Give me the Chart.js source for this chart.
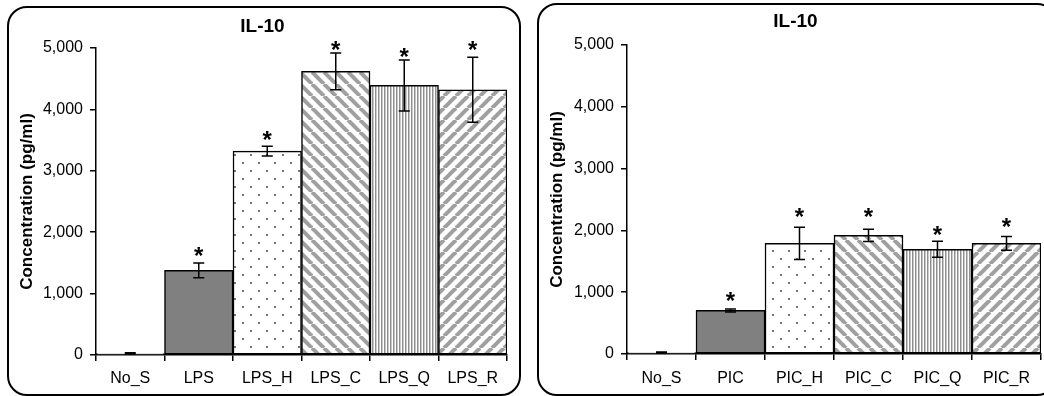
<!DOCTYPE html>
<html>
<head>
<meta charset="utf-8">
<script src="https://cdn.jsdelivr.net/npm/chart.js@4.4.1/dist/chart.umd.min.js"></script>
<style>
  html, body { margin:0; padding:0; background:#fff; }
  body { width:1044px; height:396px; position:relative; overflow:hidden; }
  .wrap { position:absolute; top:0; width:522px; height:396px; }
  .frame { position:absolute; box-sizing:border-box; border:2px solid #000; border-radius:20px; pointer-events:none; }
</style>
</head>
<body>
<div class="wrap" style="left:0"><canvas id="c1" width="522" height="396"></canvas></div>
<div class="wrap" style="left:522px"><canvas id="c2" width="522" height="396"></canvas></div>
<div class="frame" style="left:7px; top:6px; width:514px; height:390px;"></div>
<div class="frame" style="left:537px; top:3px; width:520px; height:393px;"></div>
<script>
// ---- data ----
const chartTitle = 'IL-10';
const yAxisTitle = 'Concentration (pg/ml)';
const yTickValues = [0, 1000, 2000, 3000, 4000, 5000];

const leftCategories = ['No_S', 'LPS', 'LPS_H', 'LPS_C', 'LPS_Q', 'LPS_R'];
const leftValues = [25, 1380, 3320, 4620, 4390, 4320];
const leftErrors = [10, 120, 80, 300, 415, 530];
const leftStars = [null, 1610, 3500, 4965, 4860, 4965];

const rightCategories = ['No_S', 'PIC', 'PIC_H', 'PIC_C', 'PIC_Q', 'PIC_R'];
const rightValues = [25, 705, 1790, 1920, 1695, 1790];
const rightErrors = [8, 25, 260, 100, 130, 110];
const rightStars = [null, 850, 2220, 2220, 1925, 2060];

const FONT = 'Liberation Sans, Arial, sans-serif';

// ---- patterns ----
function makeFills(ctx) {
  function tile(w, h, draw) {
    const c = document.createElement('canvas');
    c.width = w; c.height = h;
    const g = c.getContext('2d');
    g.fillStyle = '#fff'; g.fillRect(0, 0, w, h);
    draw(g);
    return ctx.createPattern(c, 'repeat');
  }
  const dots = tile(16, 16, g => {
    g.fillStyle = '#333';
    g.beginPath(); g.arc(3, 3, 0.9, 0, Math.PI * 2); g.fill();
    g.beginPath(); g.arc(11, 11, 0.9, 0, Math.PI * 2); g.fill();
  });
  const P = 12;
  const down = tile(P, P, g => {
    g.strokeStyle = '#a0a0a0'; g.lineWidth = 4;
    for (let k = -1; k <= 1; k++) { g.beginPath(); g.moveTo(k * P, 0); g.lineTo(k * P + P, P); g.stroke(); }
  });
  const up = tile(P, P, g => {
    g.strokeStyle = '#a0a0a0'; g.lineWidth = 4;
    for (let k = -1; k <= 1; k++) { g.beginPath(); g.moveTo(k * P, P); g.lineTo(k * P + P, 0); g.stroke(); }
  });
  const vert = tile(3, 4, g => {
    g.fillStyle = '#8f8f8f'; g.fillRect(0, 0, 1, 4);
    g.fillStyle = '#c8c8c8'; g.fillRect(1, 0, 1, 4);
  });
  return ['#ffffff', '#808080', dots, down, vert, up];
}

const errStarPlugin = {
  id: 'errStar',
  afterDatasetsDraw(chart, args, opts) {
    const ctx = chart.ctx;
    const meta = chart.getDatasetMeta(0);
    const y = chart.scales.y;
    const vals = chart.data.datasets[0].data;
    ctx.save();
    ctx.strokeStyle = '#000';
    ctx.lineWidth = 1.5;
    meta.data.forEach((bar, i) => {
      const v = vals[i], e = opts.errors[i];
      const yt = y.getPixelForValue(v + e), yb = y.getPixelForValue(Math.max(0, v - e));
      const x = bar.x, hw = 5.5;
      ctx.beginPath();
      ctx.moveTo(x, yt); ctx.lineTo(x, yb);
      ctx.moveTo(x - hw, yt); ctx.lineTo(x + hw, yt);
      ctx.moveTo(x - hw, yb); ctx.lineTo(x + hw, yb);
      ctx.stroke();
      const s = opts.stars[i];
      if (s != null) {
        ctx.font = 'bold 24px ' + FONT;
        ctx.fillStyle = '#000';
        ctx.textAlign = 'center';
        ctx.textBaseline = 'alphabetic';
        const m = ctx.measureText('*');
        const ys = y.getPixelForValue(s);
        ctx.fillText('*', x, ys - m.actualBoundingBoxDescent);
      }
    });
    ctx.restore();
  }
};

function build(id, cats, vals, errs, stars, g) {
  const canvas = document.getElementById(id);
  const ctx = canvas.getContext('2d');
  return new Chart(ctx, {
    type: 'bar',
    data: {
      labels: cats,
      datasets: [{
        data: vals,
        backgroundColor: makeFills(ctx),
        borderColor: '#000',
        borderWidth: 1.5,
        borderSkipped: false,
        barPercentage: 1,
        categoryPercentage: 1
      }]
    },
    plugins: [errStarPlugin],
    options: {
      responsive: false,
      animation: false,
      devicePixelRatio: 1,
      layout: { padding: { left: g.pl, right: g.pr, top: 0, bottom: 0 } },
      plugins: {
        legend: { display: false },
        tooltip: { enabled: false },
        title: {
          display: true, text: chartTitle, color: '#000',
          font: { family: FONT, size: 19, weight: 'bold' },
          padding: { top: g.tt, bottom: g.tb }
        },
        errStar: { errors: errs, stars: stars }
      },
      scales: {
        x: {
          grid: { offset: true, drawOnChartArea: false, drawTicks: true, tickLength: 6, color: '#000', lineWidth: 1.5 },
          border: { color: '#000', width: 1.5 },
          ticks: { color: '#000', font: { family: FONT, size: 16 }, padding: g.xp, maxRotation: 0, autoSkip: false },
          afterFit: s => { s.height = g.xh; }
        },
        y: {
          min: 0, max: 5000,
          afterBuildTicks: s => { s.ticks = yTickValues.map(v => ({ value: v })); },
          grid: { drawOnChartArea: false, drawTicks: true, tickLength: 6, color: '#000', lineWidth: 1.5 },
          border: { color: '#000', width: 1.5 },
          ticks: { color: '#000', font: { family: FONT, size: 16 }, padding: 7,
                   callback: v => Number(v).toLocaleString('en-US') },
          title: { display: true, text: yAxisTitle, color: '#000',
                   font: { family: FONT, size: 17, weight: 'bold' },
                   padding: { top: g.yt, bottom: 0 } },
          afterFit: s => { s.width = g.yw; }
        }
      }
    }
  });
}

build('c1', leftCategories, leftValues, leftErrors, leftStars,
  { pl: 18, pr: 15, tt: 15.1, tb: 10.1, xh: 41, xp: 8, yw: 78, yt: -1.2 });
build('c2', rightCategories, rightValues, rightErrors, rightStars,
  { pl: 28, pr: 3, tt: 10.1, tb: 12.1, xh: 42, xp: 9, yw: 77, yt: -3.2 });
</script>
</body>
</html>
